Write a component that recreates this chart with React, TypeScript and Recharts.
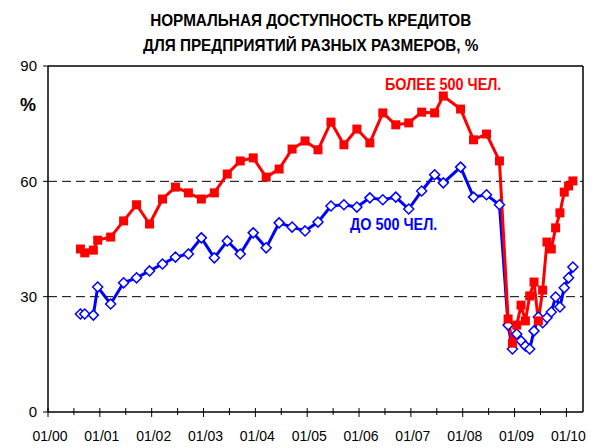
import React from "react";
import {
  LineChart,
  Line,
  XAxis,
  YAxis,
  CartesianGrid,
  ReferenceLine,
} from "recharts";

// month of observation (MM/YYYY)
const months = [
  "08/2000", "09/2000", "11/2000", "12/2000",
  "03/2001", "06/2001", "09/2001", "12/2001",
  "03/2002", "06/2002", "09/2002", "12/2002",
  "03/2003", "06/2003", "09/2003", "12/2003",
  "03/2004", "06/2004", "09/2004", "12/2004",
  "03/2005", "06/2005", "09/2005", "12/2005",
  "03/2006", "06/2006", "09/2006", "12/2006",
  "03/2007", "06/2007", "08/2007", "12/2007",
  "03/2008", "06/2008", "09/2008", "11/2008", "12/2008",
  "01/2009", "02/2009", "03/2009", "04/2009", "05/2009", "06/2009",
  "07/2009", "08/2009", "09/2009", "10/2009", "11/2009", "12/2009",
  "01/2010", "02/2010",
];

// more than 500 employees
const large = [
  42.4, 41.4, 42.1, 44.7,
  45.5, 49.7, 53.9, 48.9,
  55.4, 58.5, 57.0, 55.4,
  57.0, 61.9, 65.3, 66.1,
  61.1, 63.2, 68.4, 70.5,
  68.2, 75.4, 69.5, 73.6,
  70.0, 77.8, 74.7, 75.2,
  78.0, 77.8, 82.2, 78.8,
  70.8, 72.3, 65.3, 24.2, 17.9,
  22.6, 27.8, 23.7, 30.2, 33.8, 23.7,
  31.7, 44.2, 42.4, 47.9, 51.8, 57.2,
  58.8, 60.1,
];

// up to 500 employees
const small = [
  25.5, 25.5, 25.2, 32.5,
  28.1, 33.6, 34.9, 36.7,
  38.5, 40.3, 41.1, 45.3,
  40.1, 44.5, 41.1, 46.6,
  42.7, 49.2, 48.1, 47.1,
  49.4, 53.6, 53.9, 53.3,
  55.7, 55.2, 55.9, 52.8,
  57.5, 61.7, 59.6, 63.7,
  55.9, 56.5, 53.9, 22.6, 16.4,
  20.3, 18.5, 17.2, 16.4, 21.1, 24.7,
  23.2, 24.5, 26.0, 29.9, 27.3, 32.3,
  34.9, 37.7,
];

const yearTicks = [2000, 2001, 2002, 2003, 2004, 2005, 2006, 2007, 2008, 2009, 2010];
const yTicks = [0, 30, 60, 90];

const toYear = (m: string) => {
  const [mm, yyyy] = m.split("/");
  return Number(yyyy) + (Number(mm) - 0.5) / 12;
};

const data = months.map((m, i) => ({
  t: toYear(m),
  large: large[i],
  small: small[i],
}));

const allTicks: number[] = [];
yearTicks.forEach((y, i) => {
  allTicks.push(y);
  if (i < yearTicks.length - 1) allTicks.push(y + 0.5);
});

const XMAX = 2010.32;
const narrow = "'Liberation Sans Narrow', 'Arial Narrow', 'Liberation Sans', Arial, sans-serif";
const sans = "'Liberation Sans', Arial, sans-serif";

const XTick = (props: any) => {
  const { x, y, payload } = props;
  const major = Number.isInteger(payload.value);
  return (
    <g>
      <line x1={x} x2={x} y1={y - 4} y2={y + (major ? 5 : 3)} stroke="#000" />
      {major && (
        <text x={x + 2} y={y + 29} textAnchor="middle" fontSize={14} fontFamily={sans} fill="#000">
          {"01/" + String(payload.value % 100).padStart(2, "0")}
        </text>
      )}
    </g>
  );
};

const Square = (props: any) => {
  const { cx, cy } = props;
  if (cx == null || cy == null) return null;
  return <rect x={cx - 4.5} y={cy - 4.5} width={9} height={9} fill="#ff0000" />;
};

const Diamond = (props: any) => {
  const { cx, cy } = props;
  if (cx == null || cy == null) return null;
  const r = 5;
  return (
    <path
      d={`M${cx},${cy - r}L${cx + r},${cy}L${cx},${cy + r}L${cx - r},${cy}Z`}
      fill="#fff"
      stroke="#0000ff"
      strokeWidth={1.5}
    />
  );
};

const label = (left: number, top: number, text: string, color: string, size: number, sx = 1) => (
  <div
    style={{
      position: "absolute",
      left,
      top,
      color,
      fontSize: size,
      fontWeight: "bold",
      fontFamily: narrow,
      whiteSpace: "nowrap",
      lineHeight: 1,
      transform: `scaleX(${sx})`,
      transformOrigin: "left top",
    }}
  >
    {text}
  </div>
);

export default function App() {
  return (
    <div style={{ position: "absolute", left: 0, top: 0, width: 596, height: 448, background: "#fff" }}>
      <LineChart
        width={596}
        height={448}
        data={data}
        margin={{ top: 66, right: 13, bottom: 0, left: 0 }}
      >
        <CartesianGrid
          vertical={false}
          horizontalValues={[30, 60]}
          stroke="#000"
          strokeDasharray="9 5"
        />
        <XAxis
          dataKey="t"
          type="number"
          domain={[2000, XMAX]}
          ticks={allTicks}
          interval={0}
          allowDataOverflow
          height={36}
          tickSize={0}
          tickMargin={0}
          tick={<XTick />}
          axisLine={{ stroke: "#000", strokeWidth: 1.5 }}
        />
        <YAxis
          domain={[0, 90]}
          ticks={yTicks}
          interval={0}
          width={48}
          tickSize={5}
          tickMargin={6}
          tick={{ fontSize: 15, fontFamily: sans, fill: "#000" }}
          tickLine={{ stroke: "#000" }}
          axisLine={{ stroke: "#000", strokeWidth: 1.5 }}
        />
        <ReferenceLine y={90} stroke="#000" strokeWidth={1.5} />
        <ReferenceLine x={XMAX} stroke="#000" strokeWidth={1.5} />
        <Line
          dataKey="small"
          stroke="#0000ff"
          strokeWidth={3}
          dot={<Diamond />}
          activeDot={false}
          isAnimationActive={false}
        />
        <Line
          dataKey="large"
          stroke="#ff0000"
          strokeWidth={3}
          dot={<Square />}
          activeDot={false}
          isAnimationActive={false}
        />
      </LineChart>
      <div
        style={{
          position: "absolute",
          left: 143,
          top: 8,
          fontFamily: narrow,
          fontWeight: "bold",
          fontSize: 17,
          lineHeight: "25px",
          color: "#000",
          textAlign: "center",
          whiteSpace: "nowrap",
          transform: "scaleX(0.9)",
          transformOrigin: "left top",
        }}
      >
        НОРМАЛЬНАЯ ДОСТУПНОСТЬ КРЕДИТОВ
        <br />
        ДЛЯ ПРЕДПРИЯТИЙ РАЗНЫХ РАЗМЕРОВ, %
      </div>
      {label(20, 96, "%", "#000", 18)}
      {label(385, 77, "БОЛЕЕ 500 ЧЕЛ.", "#ff0000", 16, 0.9)}
      {label(350, 217, "ДО 500 ЧЕЛ.", "#0000ff", 16, 0.9)}
    </div>
  );
}
